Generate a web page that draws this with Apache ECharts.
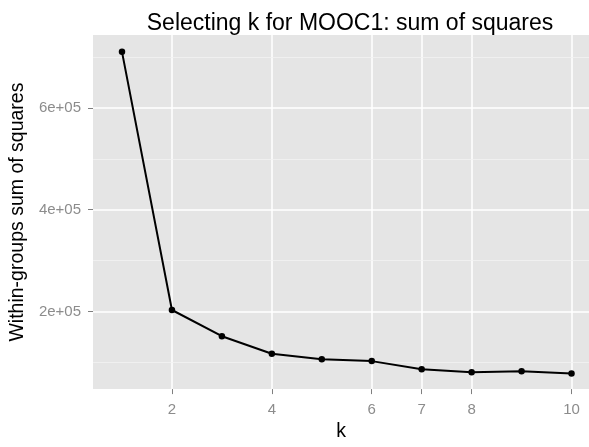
<!DOCTYPE html>
<html>
<head>
<meta charset="utf-8">
<script src="https://cdn.jsdelivr.net/npm/echarts@6/dist/echarts.min.js"></script>
<style>html,body{margin:0;padding:0;background:#fff;}#c{width:589px;height:447px;}</style>
</head>
<body>
<div id="c"></div>
<script>
const kValues = [1, 2, 3, 4, 5, 6, 7, 8, 9, 10];
const wss = [710000, 203000, 151500, 117000, 106400, 102600, 86800, 80600, 82500, 78100];
const xBreaks = [2, 4, 6, 7, 8, 10];
const yBreaks = [200000, 400000, 600000];
const yMinorBreaks = [100000, 300000, 500000, 700000];
const yTickLabels = {200000: '2e+05', 400000: '4e+05', 600000: '6e+05'};

const FONT = 'Liberation Sans, Arial, Helvetica, sans-serif';
const chart = echarts.init(document.getElementById('c'), null, {renderer: 'canvas'});
const yMin = 47640, yMax = 743100;
chart.setOption({
  animation: false,
  backgroundColor: '#ffffff',
  title: {
    text: 'Selecting k for MOOC1: sum of squares',
    left: 345, top: 7, textAlign: 'center',
    textStyle: {fontFamily: FONT, fontSize: 23, fontWeight: 'normal', color: '#000'}
  },
  grid: {left: 90, right: 0, top: 35, bottom: 44, show: true, backgroundColor: '#E5E5E5', borderWidth: 0},
  xAxis: {
    type: 'value', min: 0.42, max: 10.35,
    name: 'k', nameLocation: 'middle', nameGap: 31,
    nameTextStyle: {fontFamily: FONT, fontSize: 19.5, color: '#000'},
    axisLine: {show: false},
    axisTick: {show: true, length: 5, customValues: xBreaks, lineStyle: {color: '#7f7f7f', width: 1}},
    axisLabel: {customValues: xBreaks, margin: 13, fontFamily: FONT, fontSize: 15, color: '#8c8c8c'},
    splitLine: {show: true, lineStyle: {color: '#ffffff', width: 1.5}}
  },
  yAxis: [{
    type: 'value', min: yMin, max: yMax,
    name: 'Within-groups sum of squares', nameLocation: 'middle', nameGap: 60,
    nameTextStyle: {fontFamily: FONT, fontSize: 19.5, color: '#000'},
    axisLine: {show: false},
    axisTick: {show: true, length: 5, customValues: yBreaks, lineStyle: {color: '#7f7f7f', width: 1}},
    axisLabel: {customValues: yBreaks, margin: 12, fontFamily: FONT, fontSize: 15, color: '#8c8c8c',
      formatter: v => yTickLabels[v] || ''},
    splitLine: {show: true, lineStyle: {color: '#ffffff', width: 1.5}},
    z: 2
  }, {
    type: 'value', min: yMin, max: yMax, position: 'left',
    axisLine: {show: false},
    axisTick: {show: false, customValues: yMinorBreaks},
    axisLabel: {show: false, customValues: yMinorBreaks},
    splitLine: {show: true, lineStyle: {color: '#F2F2F2', width: 0.8}},
    z: 1
  }],
  series: [{
    type: 'line',
    yAxisIndex: 0,
    data: kValues.map((k, i) => [k, wss[i]]),
    symbol: 'circle', symbolSize: 6.5,
    itemStyle: {color: '#000'},
    lineStyle: {color: '#000', width: 2},
    z: 5
  }]
});
</script>
</body>
</html>
